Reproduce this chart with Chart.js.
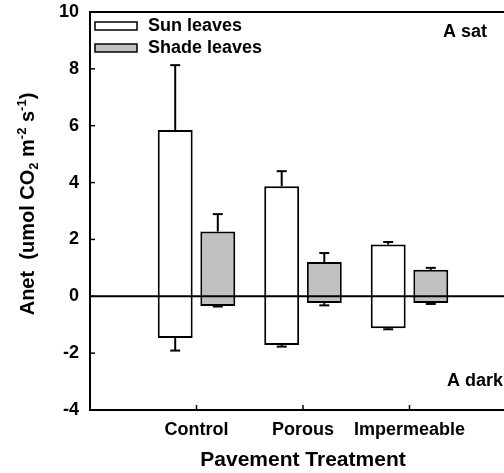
<!DOCTYPE html>
<html><head><meta charset="utf-8">
<script src="https://cdn.jsdelivr.net/npm/chart.js@4/dist/chart.umd.min.js"></script>
<style>
html,body{margin:0;padding:0;background:#fff;overflow:hidden}
#wrap{width:504px;height:473px;overflow:hidden;position:relative;background:#fff}
canvas{display:block}
</style></head><body>
<div id="wrap"><canvas id="c" width="530" height="473"></canvas></div>
<script>
// ---- data ----
const categories = ['Control', 'Porous', 'Impermeable'];
const seriesNames = ['Sun leaves', 'Shade leaves'];
const sunSat = [5.85, 3.87, 1.82];
const sunSatErr = [2.28, 0.53, 0.09];
const sunDark = [-1.47, -1.71, -1.12];
const sunDarkErr = [0.44, 0.06, 0.04];
const shadeSat = [2.28, 1.21, 0.93];
const shadeSatErr = [0.61, 0.31, 0.07];
const shadeDark = [-0.34, -0.24, -0.24];
const shadeDarkErr = [0.02, 0.08, 0.03];
const yTicks = [-4, -2, 0, 2, 4, 6, 8, 10];
const xTitle = 'Pavement Treatment';
const panelLabels = ['A sat', 'A dark'];

// ---- build ----
const FONT = '"Liberation Sans", Arial, Helvetica, sans-serif';
Chart.defaults.font.family = FONT;
Chart.defaults.font.weight = 'bold';
Chart.defaults.color = '#000';

const labels = ['', ...categories, ''];
const pad = arr => [null, ...arr, null];
const sunData = pad(categories.map((c, i) => [sunDark[i], sunSat[i]]));
const shadeData = pad(categories.map((c, i) => [shadeDark[i], shadeSat[i]]));
const errGroups = [
  [sunSat, sunSatErr, sunDark, sunDarkErr],
  [shadeSat, shadeSatErr, shadeDark, shadeDarkErr]
];

function seg(ctx, x1, y1, x2, y2) { ctx.beginPath(); ctx.moveTo(x1, y1); ctx.lineTo(x2, y2); ctx.stroke(); }

const deco = {
  id: 'deco',
  afterDatasetsDraw(chart) {
    const { ctx, chartArea: a, scales: { x, y } } = chart;
    ctx.save();
    ctx.strokeStyle = '#000';
    ctx.lineCap = 'butt';
    ctx.lineWidth = 2;
    const y0 = y.getPixelForValue(0);
    seg(ctx, a.left, y0, a.right, y0);
    errGroups.forEach((g, di) => {
      const meta = chart.getDatasetMeta(di);
      categories.forEach((c, i) => {
        const bx = meta.data[i + 1].x;
        [[g[0][i], g[1][i]], [g[2][i], -g[3][i]]].forEach(([v, e]) => {
          const p1 = y.getPixelForValue(v), p2 = y.getPixelForValue(v + e);
          ctx.lineWidth = 2;
          seg(ctx, bx, p1, bx, p2);
          seg(ctx, bx - 5, p2, bx + 5, p2);
        });
      });
    });
    ctx.lineWidth = 2;
    seg(ctx, a.left, a.top, a.right, a.top);
    seg(ctx, a.left, a.top - 1, a.left, a.bottom + 1);
    seg(ctx, a.left - 1, a.bottom, a.right, a.bottom);
    seg(ctx, a.right, a.top, a.right, a.bottom);
    ctx.lineWidth = 1.5;
    yTicks.forEach(v => { const py = y.getPixelForValue(v); seg(ctx, a.left, py, a.left + 5, py); });
    categories.forEach((c, i) => { const px = x.getPixelForValue(i + 1); seg(ctx, px, a.bottom, px, a.bottom - 5); });
    ctx.restore();
  },
  afterDraw(chart) {
    const { ctx } = chart;
    ctx.save();
    const ds = chart.data.datasets;
    const legY = [22, 44];
    ds.forEach((d, i) => {
      ctx.fillStyle = d.backgroundColor;
      ctx.fillRect(95, legY[i], 42, 8);
      ctx.strokeStyle = '#000';
      ctx.lineWidth = 1.5;
      ctx.strokeRect(95, legY[i], 42, 8);
      ctx.fillStyle = '#000';
      ctx.font = 'bold 18px ' + FONT;
      ctx.textAlign = 'left';
      ctx.textBaseline = 'middle';
      ctx.fillText(seriesNames[i], 148, legY[i] + 4.5);
    });
    ctx.font = 'bold 18px ' + FONT;
    ctx.textBaseline = 'middle';
    ctx.fillText(panelLabels[0], 443, 32);
    ctx.fillText(panelLabels[1], 447, 381);
    const segs = [
      ['Anet  (umol CO', 20, 0], ['2', 13, 4],
      [' m', 20, 0], ['-2', 13, -8], [' s', 20, 0], ['-1', 13, -8], [')', 20, 0]
    ];
    let total = 0;
    segs.forEach(s => { ctx.font = 'bold ' + s[1] + 'px ' + FONT; total += ctx.measureText(s[0]).width; });
    ctx.translate(34, 204);
    ctx.rotate(-Math.PI / 2);
    ctx.textAlign = 'left';
    ctx.textBaseline = 'alphabetic';
    let cx = -total / 2;
    segs.forEach(s => {
      ctx.font = 'bold ' + s[1] + 'px ' + FONT;
      ctx.fillText(s[0], cx, s[2]);
      cx += ctx.measureText(s[0]).width;
    });
    ctx.restore();
  }
};

new Chart(document.getElementById('c'), {
  type: 'bar',
  data: {
    labels: labels,
    datasets: [
      { label: seriesNames[0], data: sunData, backgroundColor: '#ffffff', borderColor: '#000', borderWidth: 2, borderSkipped: false },
      { label: seriesNames[1], data: shadeData, backgroundColor: '#c0c0c0', borderColor: '#000', borderWidth: 2, borderSkipped: false }
    ]
  },
  options: {
    responsive: false,
    animation: false,
    devicePixelRatio: 1,
    categoryPercentage: 0.8,
    barPercentage: 0.82,
    layout: { padding: { left: 0, right: 14, top: 12, bottom: 0 } },
    plugins: { legend: { display: false }, tooltip: { enabled: false } },
    scales: {
      x: {
        offset: false,
        grid: { display: false, drawTicks: false },
        border: { display: false },
        ticks: { autoSkip: false, maxRotation: 0, minRotation: 0, padding: 9, font: { size: 18, weight: 'bold' }, color: '#000' },
        title: { display: true, text: xTitle, font: { size: 21, weight: 'bold' }, color: '#000', padding: 0 },
        afterFit: s => { s.height = 63; s.paddingLeft = 0; s.paddingRight = 0; }
      },
      y: {
        min: -4, max: 10,
        grid: { display: false, drawTicks: false },
        border: { display: false },
        ticks: { stepSize: 2, padding: 11, font: { size: 18, weight: 'bold' }, color: '#000' },
        afterBuildTicks: s => { s.ticks = yTicks.map(v => ({ value: v })); },
        afterFit: s => { s.width = 90; s.paddingTop = 0; s.paddingBottom = 0; }
      }
    }
  },
  plugins: [deco]
});
</script>
</body></html>
